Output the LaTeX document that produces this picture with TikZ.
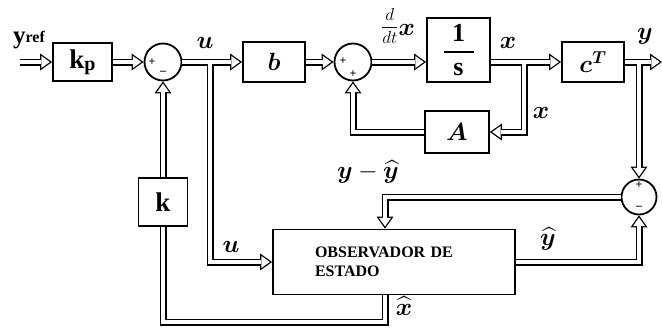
\documentclass[tikz,border=0pt]{standalone}
\usepackage{fontspec}
\setmainfont{Liberation Serif}
\usepackage{amsmath}
\usepackage{bm}
\usetikzlibrary{arrows.meta}
\tikzset{
  blk/.style={draw, line width=1.8pt, inner sep=0pt, fill=white},
  sumc/.style={draw, circle, line width=1.8pt, inner sep=0pt, fill=white},
  sgn/.style={font=\fontsize{12}{12}\selectfont\bfseries, inner sep=0pt},
  lbl/.style={font=\fontsize{26}{30}\selectfont, inner sep=0pt},
  bline/.style={line width=7pt, draw=black},
  barr/.style={bline, -{Triangle[length=12pt,width=17pt,line width=0pt]}},
  wline/.style={line width=4.4pt, draw=white},
  warr/.style={wline, shorten >=2.25pt, -{Triangle[length=8.45pt,width=12pt,line width=0pt]}},
}
\newcommand\sigwires[2]{%
  \draw[#1] (in) -- (kp.west);
  \draw[#1] (kp.east) -- (s1.west);
  \draw[#1] (s1.east) -- (b.west);
  \draw[#1] (b.east) -- (sB.west);
  \draw[#1] (sB.east) -- (int.west |- sB.east);
  \draw[#1] (int.east |- sB.east) -- (ct.west);
  \draw[#1] (jx) |- (A.east);
  \draw[#1] (A.west) -| (sB.south);
  \draw[#1] (ct.east) -- (out);
  \draw[#1] (jy) -- (s2.north);
  \draw[#1] (ju) |- (obs.west);
  \draw[#1] (obs.east) -| (s2.south);
  \draw[#1] (s2.west) -| ([xshift=-9pt]obs.north);
  \draw[#2] ([xshift=-9pt]obs.south) |- (xh) -- (k.south);
  \draw[#1] (k.north) -- (s1.south);
}
\begin{document}
\begin{tikzpicture}[x=1pt,y=-1pt]
\useasboundingbox (0,0) rectangle (662,333);
% blocks
\node[blk, minimum width=59pt, minimum height=38pt] (kp) at (82.5,62)
  {\bfseries\fontsize{27}{27}\selectfont k\fontsize{20}{20}\selectfont\raisebox{-2pt}{p}};
\node[sumc, minimum size=37pt] (s1) at (163,62) {};
\node[blk, lbl, minimum width=62pt, minimum height=40pt] (b) at (274,62) {$\bm{b}$};
\node[sumc, minimum size=37pt] (sB) at (353,62) {};
\node[blk, minimum width=63pt, minimum height=64pt, font=\fontsize{26}{30}\selectfont] (int) at (458.5,50)
  {$\genfrac{}{}{1.8pt}{0}{\makebox[30pt]{\textbf{1}}}{\textbf{s}}$};
\node[blk, lbl, minimum width=62pt, minimum height=40pt] (ct) at (593,62) {$\bm{c}^{\bm{T}}$};
\node[blk, lbl, minimum width=64pt, minimum height=42pt] (A) at (457,132) {$\bm{A}$};
\node[sumc, minimum size=35pt] (s2) at (639,197) {};
\node[blk, minimum width=49pt, minimum height=48pt] (k) at (163,202)
  {\bfseries\fontsize{27}{27}\selectfont k};
\node[blk, minimum width=242pt, minimum height=65pt, text width=158pt, align=left,
  font=\bfseries\fontsize{16}{19}\selectfont] (obs) at (394,262) {OBSERVADOR DE\\ESTADO};
% junctions and free ends
\coordinate (in) at (20,62);
\coordinate (ju) at (210,62);
\coordinate (jx) at (524,62);
\coordinate (jy) at (639,62);
\coordinate (out) at (662,62);
\coordinate (xh) at (163,322);
% connectors: outlines first, then hollow interiors
\sigwires{barr}{bline}
\sigwires{warr}{wline}
% signs
\node[sgn] (p1) at (152,62) {+};
\node[sgn] (m1) at (163,73) {--};
\node[sgn] (p2) at (343,61) {+};
\node[sgn] (p3) at (353,74) {+};
\node[sgn] (p4) at (639,185) {+};
\node[sgn] (m2) at (639,208) {--};
% labels
\node[inner sep=0pt] (yref) at (29,40) {\bfseries\fontsize{25}{25}\selectfont y\fontsize{16}{16}\selectfont\raisebox{1.5pt}{ref}};
\node[lbl] (lu1) at (205,43) {$\bm{u}$};
\node[lbl] (lu2) at (231,247) {$\bm{u}$};
\node[lbl, anchor=base west] (ldx) at (381,35)
  {\raisebox{3pt}{\fontsize{19}{22}\selectfont$\dfrac{d}{dt}$}$\bm{x}$};
\node[lbl] (lx1) at (508,43) {$\bm{x}$};
\node[lbl] (lx2) at (541,113) {$\bm{x}$};
\node[lbl] (ly) at (645,36) {$\bm{y}$};
\node[lbl] (lerr) at (368,172) {$\bm{y}-\widehat{\bm{y}}$};
\node[lbl] (lyh) at (548,239) {$\widehat{\bm{y}}$};
\node[lbl] (lxh) at (404,306) {$\widehat{\bm{x}}$};
\end{tikzpicture}
\end{document}
